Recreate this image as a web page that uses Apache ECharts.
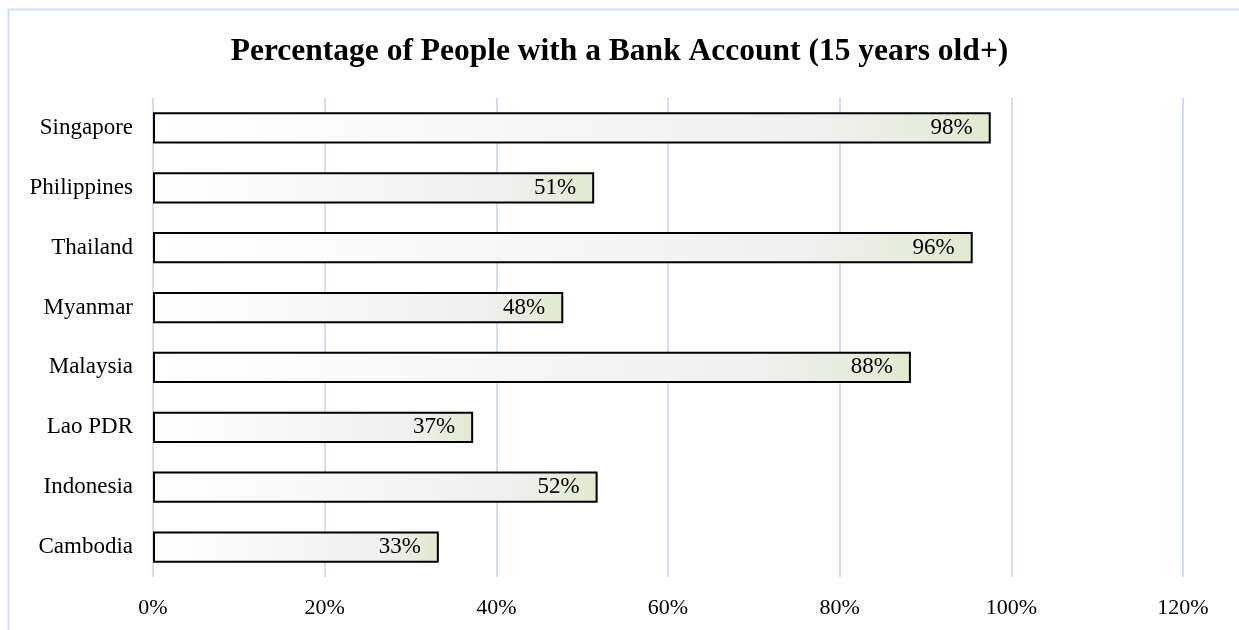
<!DOCTYPE html>
<html>
<head>
<meta charset="UTF-8">
<title>Bank account chart</title>
<script src="https://cdn.jsdelivr.net/npm/echarts@6/dist/echarts.min.js"></script>
<style>
  html, body { margin: 0; padding: 0; background: #fff; }
  #main { width: 1239px; height: 630px; }
</style>
</head>
<body>
<div id="main"></div>
<script>
// data (bottom to top, as the axis draws them)
var countries = ['Cambodia', 'Indonesia', 'Lao PDR', 'Malaysia', 'Myanmar', 'Thailand', 'Philippines', 'Singapore'];
var shares = [33.3, 51.8, 37.3, 88.3, 47.8, 95.5, 51.4, 97.6];
var tickMax = 120;
var tickStep = 20;

var serif = '"Liberation Serif", "DejaVu Serif", serif';
var myChart = echarts.init(document.getElementById('main'));

var barFill = new echarts.graphic.LinearGradient(0, 0, 1, 0, [
  { offset: 0, color: '#ffffff' },
  { offset: 0.8, color: '#f0f0f0' },
  { offset: 1, color: '#e1e9cf' }
]);

var option = {
  backgroundColor: '#fff',
  animation: false,
  graphic: [{
    type: 'rect',
    left: 6, top: 7,
    shape: { width: 1400, height: 800 },
    style: { fill: 'none', stroke: '#d3def2', lineWidth: 2 },
    silent: true
  }],
  title: {
    text: 'Percentage of People with a Bank Account (15 years old+)',
    left: 'center',
    top: 31,
    textStyle: { fontFamily: serif, fontSize: 31.5, fontWeight: 'bold', color: '#000' }
  },
  grid: { left: 153, right: 56, top: 98, bottom: 53, containLabel: false },
  xAxis: {
    type: 'value',
    min: 0,
    max: tickMax,
    interval: tickStep,
    axisLine: { show: false },
    axisTick: { show: false },
    axisLabel: {
      margin: 20,
      formatter: '{value}%',
      fontFamily: serif, fontSize: 22, color: '#000'
    },
    splitLine: { lineStyle: { color: '#d3def2', width: 2 } }
  },
  yAxis: {
    type: 'category',
    data: countries,
    axisLine: { show: false },
    axisTick: { show: false },
    axisLabel: { margin: 20, fontFamily: serif, fontSize: 23, color: '#000' }
  },
  series: [{
    type: 'bar',
    data: shares,
    barWidth: '52%',
    itemStyle: { color: barFill, borderColor: '#000', borderWidth: 2 },
    label: {
      show: true,
      position: 'insideRight',
      distance: 18,
      formatter: function (p) { return Math.round(p.value) + '%'; },
      fontFamily: serif, fontSize: 23, color: '#000'
    }
  }]
};

myChart.setOption(option);
</script>
</body>
</html>
